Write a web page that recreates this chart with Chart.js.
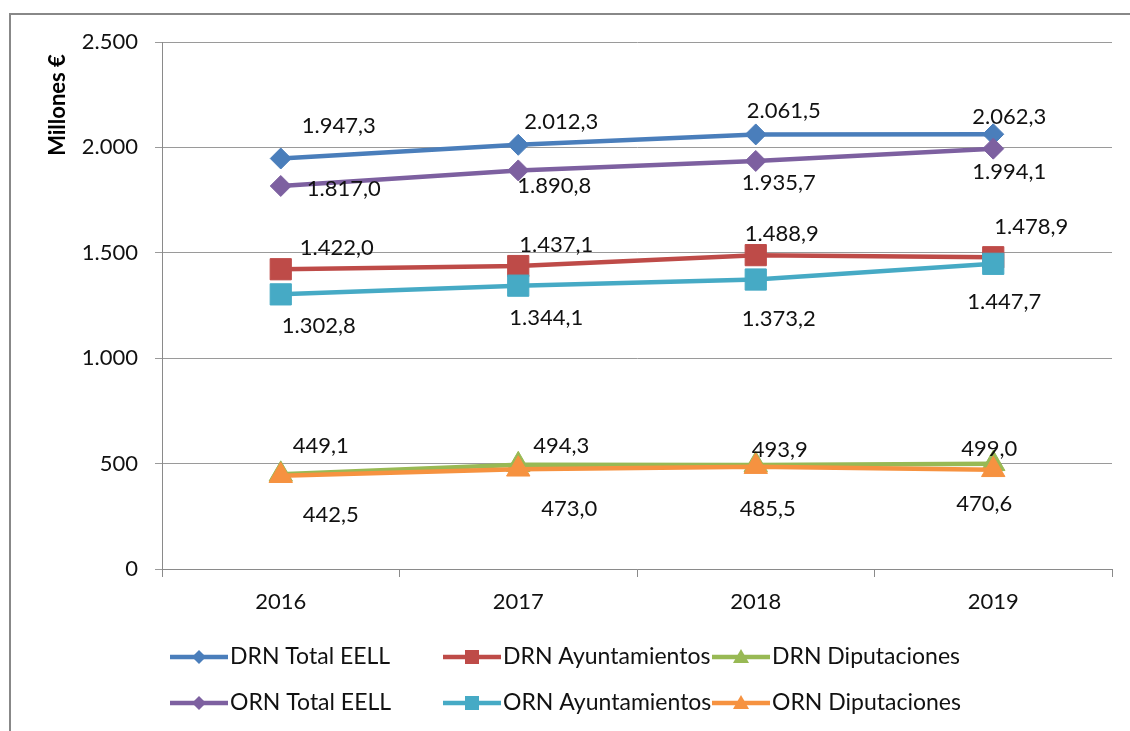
<!DOCTYPE html>
<html>
<head>
<meta charset="utf-8">
<script src="https://cdn.jsdelivr.net/npm/chart.js@4.4.0/dist/chart.umd.min.js"></script>
<style>
html, body { margin: 0; padding: 0; background: #fff; overflow: hidden; }
#wrap { position: relative; width: 1130px; height: 731px; }
</style>
</head>
<body>
<div id="wrap"><canvas id="chart" width="1130" height="731"></canvas></div>
<script>
// datos (millones de euros)
const years = ['2016', '2017', '2018', '2019'];
const drnTotal = [1947.3, 2012.3, 2061.5, 2062.3];
const drnAyto = [1422.0, 1437.1, 1488.9, 1478.9];
const drnDipu = [449.1, 494.3, 493.9, 499.0];
const ornTotal = [1817.0, 1890.8, 1935.7, 1994.1];
const ornAyto = [1302.8, 1344.1, 1373.2, 1447.7];
const ornDipu = [442.5, 473.0, 485.5, 470.6];
const seriesNames = ['DRN Total EELL', 'DRN Ayuntamientos', 'DRN Diputaciones',
                     'ORN Total EELL', 'ORN Ayuntamientos', 'ORN Diputaciones'];
const yMax = 2500;
const yStep = 500;

const FONT = 'Lato, "Liberation Sans", sans-serif';
const TEXT = '#111';

// estilo de cada serie
const styles = [
    { color: '#4A7EBB', point: 'rectRot', radius: 10.5 },
    { color: '#BE4B48', point: 'rect', radius: 15 },
    { color: '#98B954', point: 'triangle', radius: 13.5 },
    { color: '#7D60A0', point: 'rectRot', radius: 10.5 },
    { color: '#46AAC5', point: 'rect', radius: 15 },
    { color: '#F69240', point: 'triangle', radius: 13.5 }
];

// desplazamiento de las etiquetas respecto al punto (px)
const labelOffsets = [
    [[58, -33], [43, -23], [28, -24], [16, -17]],
    [[56, -21], [38, -21], [26, -21], [38, -30]],
    [[40, -28], [43, -19], [24, -15], [-4, -15]],
    [[63, 3], [36, 15], [23, 22], [16, 23]],
    [[38, 32], [28, 32], [23, 39], [11, 38]],
    [[50, 39], [51, 40], [12, 42], [-9, 34]]
];

function fmtEs(v, dec) {
    const parts = v.toFixed(dec).split('.');
    parts[0] = parts[0].replace(/\B(?=(\d{3})+(?!\d))/g, '.');
    return parts.join(',');
}

const allData = [drnTotal, drnAyto, drnDipu, ornTotal, ornAyto, ornDipu];

const datasets = allData.map((d, i) => ({
    label: seriesNames[i],
    data: d,
    borderColor: styles[i].color,
    backgroundColor: styles[i].color,
    borderWidth: 4.5,
    pointStyle: styles[i].point,
    pointRadius: styles[i].radius,
    pointHoverRadius: styles[i].radius,
    pointBackgroundColor: styles[i].color,
    pointBorderColor: styles[i].color,
    pointBorderWidth: 1,
    tension: 0,
    order: allData.length - i
}));

const decorPlugin = {
    id: 'decor',
    beforeDraw(chart) {
        const ctx = chart.ctx;
        ctx.save();
        ctx.strokeStyle = '#888';
        ctx.lineWidth = 2;
        ctx.strokeRect(10, 14, 1300, 900);
        ctx.restore();
    },
    afterDatasetsDraw(chart) {
        const ctx = chart.ctx;
        ctx.save();
        ctx.font = '22px ' + FONT;
        ctx.fillStyle = TEXT;
        ctx.textAlign = 'center';
        ctx.textBaseline = 'middle';
        chart.data.datasets.forEach((ds, i) => {
            const meta = chart.getDatasetMeta(i);
            meta.data.forEach((pt, j) => {
                const off = labelOffsets[i][j];
                ctx.fillText(fmtEs(ds.data[j], 1), pt.x + off[0], pt.y + off[1]);
            });
        });
        ctx.restore();
    },
    afterDraw(chart) {
        const ctx = chart.ctx;
        ctx.save();
        // titulo eje Y
        ctx.translate(58, 105);
        ctx.rotate(-Math.PI / 2);
        ctx.font = 'bold 22px ' + FONT;
        ctx.fillStyle = '#000';
        ctx.textAlign = 'center';
        ctx.textBaseline = 'middle';
        ctx.fillText('Millones €', 0, 0);
        ctx.restore();

        // leyenda 3 x 2
        const colX = [170, 443, 712];
        const rowY = [657, 703];
        ctx.save();
        ctx.font = '23px ' + FONT;
        ctx.textBaseline = 'middle';
        ctx.textAlign = 'left';
        chart.data.datasets.forEach((ds, k) => {
            const x0 = colX[k % 3];
            const y = rowY[Math.floor(k / 3)];
            const c = styles[k].color;
            ctx.strokeStyle = c;
            ctx.lineWidth = 4.5;
            ctx.beginPath();
            ctx.moveTo(x0, y);
            ctx.lineTo(x0 + 58, y);
            ctx.stroke();
            const mx = x0 + 29;
            ctx.fillStyle = c;
            ctx.beginPath();
            if (styles[k].point === 'rectRot') {
                ctx.moveTo(mx - 7, y); ctx.lineTo(mx, y - 7);
                ctx.lineTo(mx + 7, y); ctx.lineTo(mx, y + 7);
            } else if (styles[k].point === 'rect') {
                ctx.rect(mx - 7, y - 7, 14, 14);
            } else {
                ctx.moveTo(mx, y - 8); ctx.lineTo(mx + 8, y + 6); ctx.lineTo(mx - 8, y + 6);
            }
            ctx.closePath();
            ctx.fill();
            ctx.fillStyle = TEXT;
            ctx.fillText(ds.label, x0 + 60, y);
        });
        ctx.restore();
    }
};

new Chart(document.getElementById('chart'), {
    type: 'line',
    data: { labels: years, datasets: datasets },
    options: {
        responsive: false,
        animation: false,
        devicePixelRatio: 1,
        layout: { padding: { left: 0, top: 42, right: 18, bottom: 0 } },
        plugins: {
            legend: { display: false },
            tooltip: { enabled: false }
        },
        scales: {
            x: {
                offset: true,
                grid: { offset: true, drawOnChartArea: false, drawTicks: true, tickLength: 8, color: '#8a8a8a' },
                border: { color: '#8a8a8a', width: 1 },
                ticks: { color: TEXT, font: { family: FONT, size: 22 }, padding: 12, maxRotation: 0 },
                afterFit(scale) { scale.height = 731 - 569; }
            },
            y: {
                min: 0,
                max: yMax,
                grid: { color: '#9a9a9a', drawTicks: true, tickLength: 7 },
                border: { color: '#8a8a8a', width: 1 },
                ticks: {
                    stepSize: yStep,
                    color: TEXT,
                    font: { family: FONT, size: 22 },
                    padding: 17,
                    callback: v => fmtEs(v, 0)
                },
                afterFit(scale) { scale.width = 162; }
            }
        }
    },
    plugins: [decorPlugin]
});
</script>
</body>
</html>
